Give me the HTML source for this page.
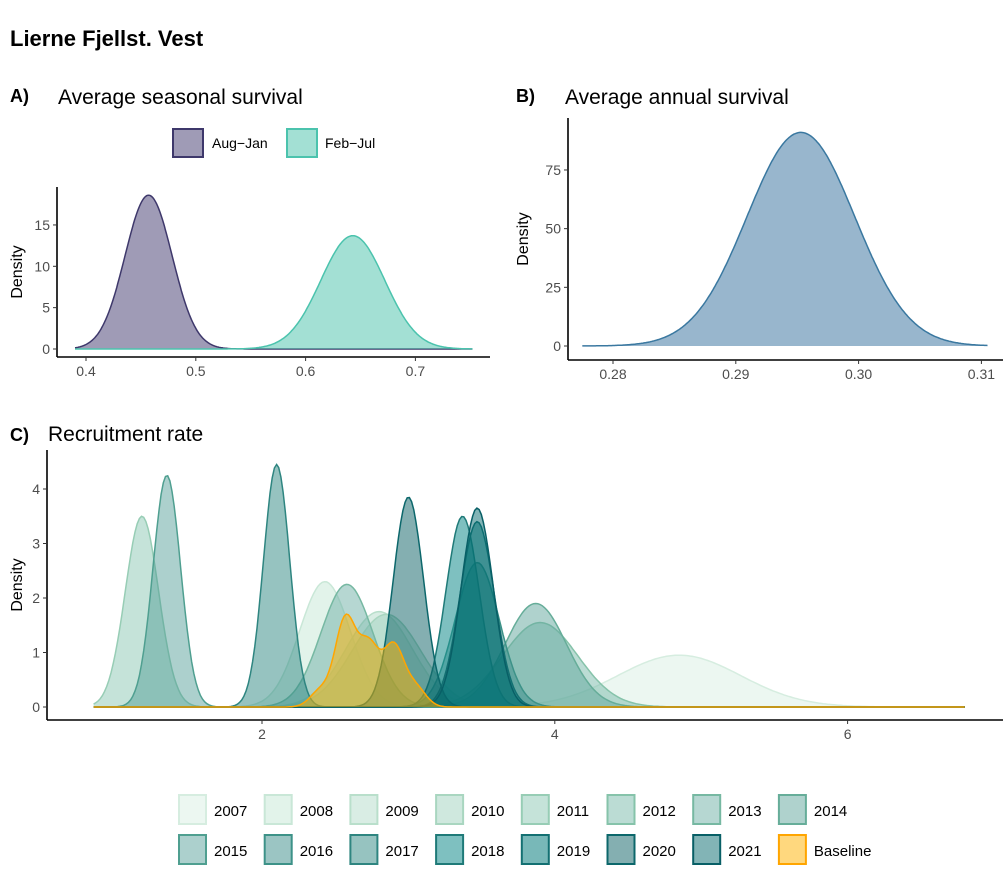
<!DOCTYPE html>
<html><head><meta charset="utf-8"><style>
body{margin:0;background:#fff;}
svg{display:block;font-family:"Liberation Sans",Arial,sans-serif;}
</style></head><body>
<svg id="c" width="1008" height="882" viewBox="0 0 1008 882">
<text x="10" y="46" font-size="22" font-weight="bold">Lierne Fjellst. Vest</text>
<text x="10" y="102" font-size="18" font-weight="bold">A)</text>
<text x="58" y="104" font-size="21">Average seasonal survival</text>
<text x="516" y="102" font-size="18" font-weight="bold">B)</text>
<text x="565" y="104" font-size="21">Average annual survival</text>
<text x="10" y="441" font-size="18" font-weight="bold">C)</text>
<text x="48" y="441" font-size="21">Recruitment rate</text>
<g id="ga"></g>
<g id="gb"></g>
<g id="gc"></g>
<g id="lg"></g>
</svg>
<script>
// Panel A data
const aSeries=["Aug−Jan","Feb−Jul"];
const aMeans=[0.457,0.643];
const aPeaks=[18.6,13.7];
const aTicksX=[0.4,0.5,0.6,0.7];
const aTicksY=[0,5,10,15];
// Panel B data
const bMean=[0.2953];
const bPeak=[91];
const bTicksX=[0.28,0.29,0.30,0.31];
const bTicksY=[0,25,50,75];
// Panel C data
const cYears=["2007","2008","2009","2010","2011","2012","2013","2014","2015","2016","2017","2018","2019","2020","2021"];
const cMeans=[4.85,2.43,2.8,2.85,1.18,3.9,2.58,3.87,1.35,3.47,2.1,3.37,3.47,3.0,3.47];
const cPeaks=[0.95,2.3,1.75,1.7,3.5,1.55,2.25,1.9,4.25,2.65,4.45,3.5,3.4,3.85,3.65];
const baseMeans=[2.4,2.57,2.73,2.9,3.05];
const basePeaks=[0.3,1.6,1.1,1.1,0.35];
const cTicksX=[2,4,6];
const cTicksY=[0,1,2,3,4];

const NS="http://www.w3.org/2000/svg";
function mk(t,a,p){const e=document.createElementNS(NS,t);for(const k in a)e.setAttribute(k,a[k]);p.appendChild(e);return e;}
function gauss(x,m,p){const sd=0.3989/p;return p*Math.exp(-0.5*((x-m)/sd)**2);}
function area(g,xs,ys,x0,x1,f,fill,stroke,name){
  let d="";const n=400;
  for(let i=0;i<=n;i++){const x=x0+(x1-x0)*i/n;d+=(i?"L":"M")+xs(x).toFixed(1)+","+ys(f(x)).toFixed(1);}
  const fd=d+"L"+xs(x1)+","+ys(0)+"L"+xs(x0)+","+ys(0)+"Z";
  const e=mk("path",{d:fd,fill:fill,stroke:"none"},g);
  
  
  const l=mk("path",{d:d,fill:"none",stroke:stroke,"stroke-width":1.5},g);
  
  
}
function axes(g,L,R,T,B,xs,ys,tx,ty,fmt,ylab,yx){
  mk("line",{x1:L,y1:B,x2:R,y2:B,stroke:"#000","stroke-width":1.6},g);
  mk("line",{x1:L,y1:T,x2:L,y2:B,stroke:"#000","stroke-width":1.6},g);
  tx.forEach(v=>{const x=xs(v);mk("line",{x1:x,y1:B,x2:x,y2:B+4,stroke:"#333"},g);
    const t=mk("text",{x:x,y:B+19,"font-size":14,fill:"#4d4d4d","text-anchor":"middle"},g);t.textContent=fmt(v);
    });
  ty.forEach(v=>{const y=ys(v);mk("line",{x1:L-4,y1:y,x2:L,y2:y,stroke:"#333"},g);
    const t=mk("text",{x:L-7,y:y+5,"font-size":14,fill:"#4d4d4d","text-anchor":"end"},g);t.textContent=v;
    });
  const yl=mk("text",{x:yx,y:(T+B)/2,"font-size":16,"text-anchor":"middle",transform:`rotate(-90 ${yx} ${(T+B)/2})`},g);
  yl.textContent=ylab;
}
// Panel A
{const g=document.getElementById("ga");
 const xs=v=>86+(v-0.4)*1098, ys=v=>349-v*8.27;
 const fills=["rgba(64,55,110,0.5)","rgba(72,193,170,0.5)"],strokes=["#3e386b","#4bc3ad"];
 const names=["aug-jan","feb-jul"];
 aMeans.forEach((m,i)=>area(g,xs,ys,0.39,0.752,x=>gauss(x,m,aPeaks[i]),fills[i],strokes[i],"density-"+names[i]));
 axes(g,57,490,187,357,xs,ys,aTicksX,aTicksY,v=>v.toFixed(1),"Density",22);
 [[173,212],[287,325]].forEach((p,i)=>{const r=mk("rect",{x:p[0],y:129,width:30,height:28,fill:fills[i],stroke:strokes[i],"stroke-width":2},g);
  
  const t=mk("text",{x:p[1],y:148,"font-size":14},g);t.textContent=aSeries[i];
  });
}
// Panel B
{const g=document.getElementById("gb");
 const xs=v=>613+(v-0.28)*12280, ys=v=>346-v*2.347;
 area(g,xs,ys,0.2775,0.3105,x=>gauss(x,bMean[0],bPeak[0]),"rgba(50,110,155,0.5)","#3a78a0","density-annual");
 axes(g,568,1003,118,360,xs,ys,bTicksX,bTicksY,v=>v.toFixed(2),"Density",528);
}
// Panel C
const strokeC=["#d6ede0","#c9e7d7","#b9dfcb","#a9d6c0","#97cdb5","#86c3aa","#76b8a2","#66ad99","#4f9f90","#3d9288","#2e8580","#1f7a78","#137072","#0c676b","#085f66"];
const fillC=["rgba(200,232,214,0.35)","rgba(190,228,208,0.45)","rgba(170,215,195,0.45)","rgba(160,210,190,0.5)","rgba(140,200,180,0.5)","rgba(120,185,170,0.5)","rgba(110,175,165,0.5)","rgba(95,165,155,0.5)","rgba(70,150,145,0.45)","rgba(55,140,135,0.5)","rgba(45,135,130,0.5)","rgba(20,140,140,0.55)","rgba(10,125,125,0.55)","rgba(10,95,100,0.5)","rgba(5,105,110,0.5)"];
{const g=document.getElementById("gc");
 const xs=v=>262+(v-2)*146.4, ys=v=>707-v*54.5;
 cYears.forEach((y,i)=>area(g,xs,ys,0.85,6.8,x=>gauss(x,cMeans[i],cPeaks[i]),fillC[i],strokeC[i],"density-"+y));
 area(g,xs,ys,0.85,6.8,x=>{let s=0;for(let k=0;k<baseMeans.length;k++){s+=basePeaks[k]*Math.exp(-0.5*((x-baseMeans[k])/0.07)**2);}return s;},"rgba(255,180,0,0.5)","#ffa500","density-baseline");
 axes(g,47,1003,450,720,xs,ys,cTicksX,cTicksY,v=>v,"Density",22);
 const lg=document.getElementById("lg");
 const labels=cYears.concat(["Baseline"]);
 const lf=fillC.concat(["rgba(255,190,40,0.6)"]),ls=strokeC.concat(["#ffa500"]);
 labels.forEach((lab,i)=>{const r=i<8?0:1,c=i%8;const x=179+c*85.7,y=795+r*40;
  const s=mk("rect",{x:x,y:y,width:27,height:29,fill:lf[i],stroke:ls[i],"stroke-width":2},lg);
  
  const t=mk("text",{x:x+35,y:y+21,"font-size":15},lg);t.textContent=lab;
  });
}
</script>
</body></html>
